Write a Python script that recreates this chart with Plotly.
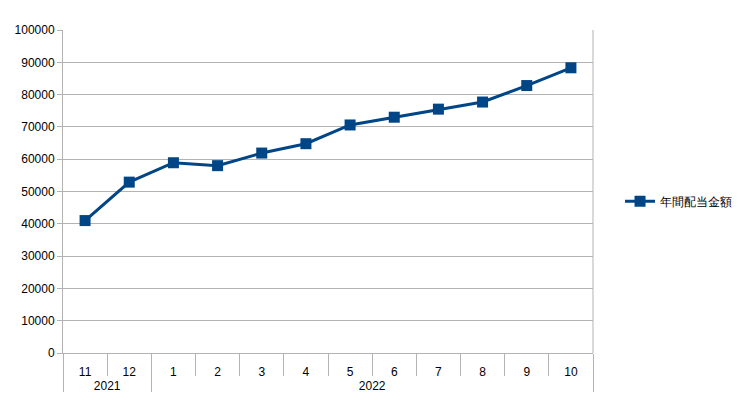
import plotly.graph_objects as go

years = ["2021", "2021", "2022", "2022", "2022", "2022", "2022", "2022", "2022", "2022", "2022", "2022"]
months = ["11", "12", "1", "2", "3", "4", "5", "6", "7", "8", "9", "10"]
values = [41000, 52900, 58900, 58000, 61900, 64800, 70600, 73000, 75500, 77700, 82800, 88300]
series_name = "年間配当金額"

color = "#004586"
grid = "#b3b3b3"
font = "Liberation Sans, Arial, sans-serif"

# year groups derived from the category list: centres for labels, boundaries for dividers
group_names, group_centres, group_bounds = [], [], [-0.5]
start = 0
for i in range(1, len(years) + 1):
    if i == len(years) or years[i] != years[start]:
        group_names.append(years[start])
        group_centres.append((start + i - 1) / 2)
        group_bounds.append(i - 0.5)
        start = i

n = len(months)

fig = go.Figure()
fig.add_trace(go.Scatter(
    x=months, y=values, name=series_name, mode="lines+markers",
    line=dict(color=color, width=3),
    marker=dict(symbol="square", size=11, color=color),
    showlegend=True,
))
# invisible helper traces so the year-label and divider axes are drawn
fig.add_trace(go.Scatter(x=group_centres, y=[0] * len(group_centres), xaxis="x2",
                         mode="markers", marker=dict(opacity=0), showlegend=False,
                         hoverinfo="skip"))
fig.add_trace(go.Scatter(x=group_bounds, y=[0] * len(group_bounds), xaxis="x3",
                         mode="markers", marker=dict(opacity=0), showlegend=False,
                         hoverinfo="skip"))

# page body has an 8px default margin; compensate so the plot area lands at 63..593 x 30..353
fig.update_layout(
    width=732, height=399,
    margin=dict(l=55, r=147, t=22, b=54, autoexpand=False),
    paper_bgcolor="white", plot_bgcolor="white",
    font=dict(family=font, size=12, color="#000000"),
    legend=dict(x=1.051, y=0.47, xanchor="left", yanchor="middle",
                font=dict(size=12, color="#000000"), bgcolor="rgba(0,0,0,0)"),
    xaxis=dict(
        type="category", showgrid=False, automargin=False,
        range=[-0.5, n - 0.5],
        showline=True, linecolor=grid, linewidth=1,
        ticks="outside", tickson="boundaries", ticklen=22, tickcolor=grid,
        ticklabelstandoff=8,
        tickfont=dict(size=12, color="#000000"),
    ),
    xaxis2=dict(
        type="linear", overlaying="x", anchor="y", side="bottom",
        range=[-0.5, n - 0.5], automargin=False,
        showgrid=False, zeroline=False, showline=False,
        tickmode="array", tickvals=group_centres, ticktext=group_names,
        ticks="", ticklabelstandoff=24,
        tickfont=dict(size=12, color="#000000"),
    ),
    xaxis3=dict(
        type="linear", overlaying="x", anchor="y", side="bottom",
        range=[-0.5, n - 0.5], automargin=False,
        showgrid=False, zeroline=False, showline=False,
        tickmode="array", tickvals=group_bounds, showticklabels=False,
        ticks="outside", ticklen=38, tickcolor=grid, tickwidth=1,
    ),
    yaxis=dict(
        range=[0, 100000], dtick=10000, tickformat="d", automargin=False,
        showgrid=True, gridcolor=grid, gridwidth=1,
        showline=True, linecolor=grid, linewidth=1,
        ticks="outside", ticklen=5, tickcolor=grid,
        zeroline=False,
        tickfont=dict(size=12, color="#000000"),
    ),
)
# right border of plot area
fig.add_shape(type="line", xref="paper", yref="paper", x0=1, x1=1, y0=0, y1=1,
              line=dict(color=grid, width=1))

fig.write_html("out.html")
